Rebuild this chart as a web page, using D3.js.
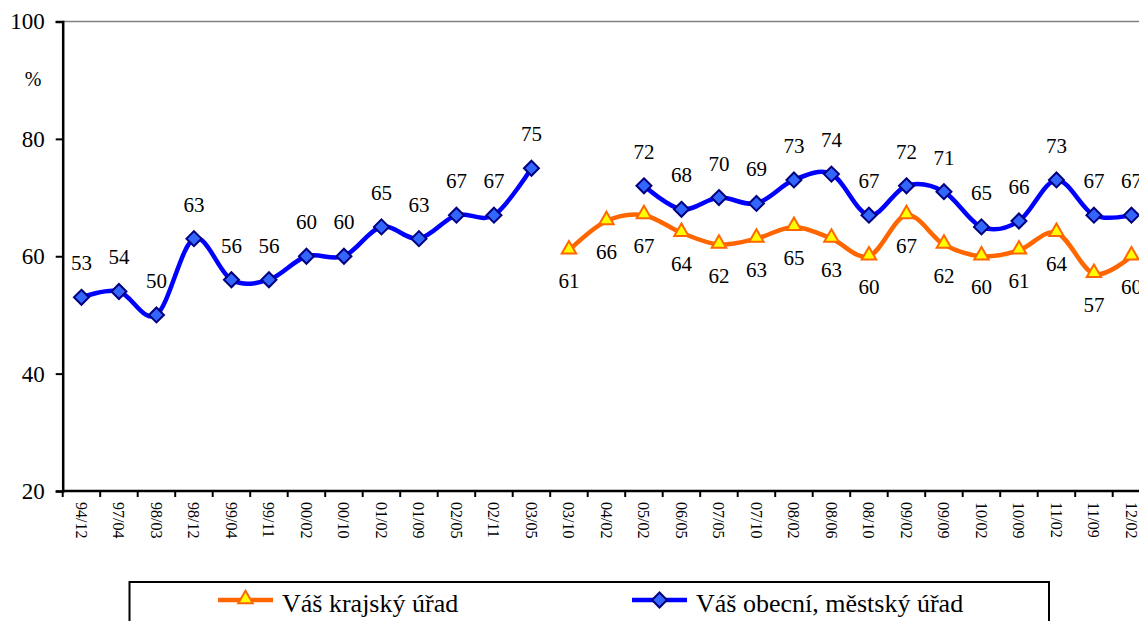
<!DOCTYPE html>
<html>
<head>
<meta charset="utf-8">
<script src="https://cdn.jsdelivr.net/npm/d3@7"></script>
<style>
  body { margin: 0; background: #fff; }
  svg { display: block; }
  svg text { font-family: "Liberation Serif", "Times New Roman", serif; }
</style>
</head>
<body>
<svg id="chart" width="1139" height="621" font-family="Liberation Serif"></svg>
<script>
// categories (survey dates)
var categories = ["94/12", "97/04", "98/03", "98/12", "99/04", "99/11", "00/02", "00/10",
  "01/02", "01/09", "02/05", "02/11", "03/05", "03/10", "04/02", "05/02", "06/05",
  "07/05", "07/10", "08/02", "08/06", "08/10", "09/02", "09/09", "10/02", "10/09",
  "11/02", "11/09", "12/02"];

// Váš krajský úřad
var krajValues = [null, null, null, null, null, null, null, null, null, null, null, null, null,
  61, 66, 67, 64, 62, 63, 65, 63, 60, 67, 62, 60, 61, 64, 57, 60];

// Váš obecní, městský úřad
var obecValues = [53, 54, 50, 63, 56, 56, 60, 60, 65, 63, 67, 67, 75, null, null,
  72, 68, 70, 69, 73, 74, 67, 72, 71, 65, 66, 73, 67, 67];

var yTicks = [20, 40, 60, 80, 100];

var seriesNames = ["Váš krajský úřad", "Váš obecní, městský úřad"];

function drawChart(svgID) {
  var svg = d3.select(svgID);

  var margin = { left: 62.7, top: 21.5 },
    bandW = 37.5,
    plotW = bandW * categories.length,
    plotH = 469.5;

  var x = d3
    .scaleBand()
    .domain(categories)
    .range([margin.left, margin.left + plotW]);

  var y = d3
    .scaleLinear()
    .domain([20, 100])
    .range([margin.top + plotH, margin.top]);

  function cx(i) {
    return x(categories[i]) + x.bandwidth() / 2;
  }

  // plot area border (only top is really visible)
  svg
    .append("rect")
    .attr("x", margin.left)
    .attr("y", margin.top)
    .attr("width", plotW)
    .attr("height", plotH)
    .attr("fill", "none")
    .attr("stroke", "#808080")
    .attr("stroke-width", 1.5);

  // y axis
  var yAxis = svg
    .append("g")
    .attr("transform", "translate(" + margin.left + ",0)")
    .call(d3.axisLeft(y).tickValues(yTicks).tickSize(7).tickPadding(11));
  yAxis.attr("font-family", "Liberation Serif");
  yAxis.select(".domain").attr("stroke", "#000").attr("stroke-width", 2.5);
  yAxis.selectAll(".tick line").attr("stroke", "#000").attr("stroke-width", 2);
  yAxis
    .selectAll(".tick text")
    .attr("font-size", 23)
    .attr("fill", "#000");

  svg
    .append("text")
    .attr("x", 33)
    .attr("y", 86)
    .attr("text-anchor", "middle")
    .attr("font-size", 20)
    .text("%");

  // x axis: ticks between categories
  var xg = svg.append("g").attr("class", "x-axis");
  xg.append("line")
    .attr("x1", margin.left)
    .attr("x2", margin.left + plotW)
    .attr("y1", y(20))
    .attr("y2", y(20))
    .attr("stroke", "#000")
    .attr("stroke-width", 2.5);

  xg.selectAll("line.tick")
    .data(d3.range(categories.length + 1))
    .enter()
    .append("line")
    .attr("class", "tick")
    .attr("x1", function(d) { return margin.left + d * x.step(); })
    .attr("x2", function(d) { return margin.left + d * x.step(); })
    .attr("y1", y(20))
    .attr("y2", y(20) + 6)
    .attr("stroke", "#000")
    .attr("stroke-width", 2);

  xg.selectAll("text")
    .data(categories)
    .enter()
    .append("text")
    .attr("transform", function(d) {
      return "translate(" + (x(d) + x.bandwidth() / 2) + "," + (y(20) + 11) + ") rotate(90)";
    })
    .attr("dy", "0.35em")
    .attr("font-size", 16)
    .text(function(d) { return d; });

  // series
  var line = d3
    .line()
    .defined(function(d) { return d != null; })
    .x(function(d, i) { return cx(i); })
    .y(function(d) { return y(d); })
    .curve(d3.curveCardinal.tension(0));

  svg.append("path")
    .datum(krajValues)
    .attr("d", line)
    .attr("fill", "none")
    .attr("stroke", "#FF6600")
    .attr("stroke-width", 4.5);

  svg.append("path")
    .datum(obecValues)
    .attr("d", line)
    .attr("fill", "none")
    .attr("stroke", "#0000FF")
    .attr("stroke-width", 4.5);

  var triangle = d3.symbol().type(d3.symbolTriangle).size(90);
  var diamond = "M0,-7.5L7.5,0L0,7.5L-7.5,0Z";

  var krajPoints = krajValues
    .map(function(v, i) { return { v: v, i: i }; })
    .filter(function(d) { return d.v != null; });
  var obecPoints = obecValues
    .map(function(v, i) { return { v: v, i: i }; })
    .filter(function(d) { return d.v != null; });

  svg.append("g")
    .selectAll("path")
    .data(krajPoints)
    .enter()
    .append("path")
    .attr("d", triangle)
    .attr("transform", function(d) {
      return "translate(" + cx(d.i) + "," + (y(d.v) - 1) + ")";
    })
    .attr("fill", "#FFFF00")
    .attr("stroke", "#FF6600")
    .attr("stroke-width", 2);

  svg.append("g")
    .selectAll("path")
    .data(obecPoints)
    .enter()
    .append("path")
    .attr("d", diamond)
    .attr("transform", function(d) {
      return "translate(" + cx(d.i) + "," + y(d.v) + ")";
    })
    .attr("fill", "#3366FF")
    .attr("stroke", "#000080")
    .attr("stroke-width", 2);

  // data labels
  svg.append("g")
    .selectAll("text")
    .data(krajPoints)
    .enter()
    .append("text")
    .attr("x", function(d) { return cx(d.i); })
    .attr("y", function(d) { return y(d.v) + 38; })
    .attr("text-anchor", "middle")
    .attr("font-size", 21)
    .text(function(d) { return d.v; });

  svg.append("g")
    .selectAll("text")
    .data(obecPoints)
    .enter()
    .append("text")
    .attr("x", function(d) { return cx(d.i); })
    .attr("y", function(d) { return y(d.v) - 27; })
    .attr("text-anchor", "middle")
    .attr("font-size", 21)
    .text(function(d) { return d.v; });

  // legend
  var legend = svg.append("g");
  legend.append("rect")
    .attr("x", 129.5)
    .attr("y", 582)
    .attr("width", 919.5)
    .attr("height", 60)
    .attr("fill", "#fff")
    .attr("stroke", "#000")
    .attr("stroke-width", 2);

  var items = [
    { name: seriesNames[0], x: 218, color: "#FF6600", marker: "tri" },
    { name: seriesNames[1], x: 632, color: "#0000FF", marker: "dia" }
  ];

  items.forEach(function(it) {
    legend.append("line")
      .attr("x1", it.x)
      .attr("x2", it.x + 55)
      .attr("y1", 600)
      .attr("y2", 600)
      .attr("stroke", it.color)
      .attr("stroke-width", 4.5);
    if (it.marker === "tri") {
      legend.append("path")
        .attr("d", triangle)
        .attr("transform", "translate(" + (it.x + 27.5) + ",599)")
        .attr("fill", "#FFFF00")
        .attr("stroke", "#FF6600")
        .attr("stroke-width", 2);
    } else {
      legend.append("path")
        .attr("d", diamond)
        .attr("transform", "translate(" + (it.x + 27.5) + ",600)")
        .attr("fill", "#3366FF")
        .attr("stroke", "#000080")
        .attr("stroke-width", 2);
    }
    legend.append("text")
      .attr("x", it.x + 64)
      .attr("y", 612)
      .attr("font-size", 26)
      .text(it.name);
  });
}

drawChart("#chart");
</script>
</body>
</html>
